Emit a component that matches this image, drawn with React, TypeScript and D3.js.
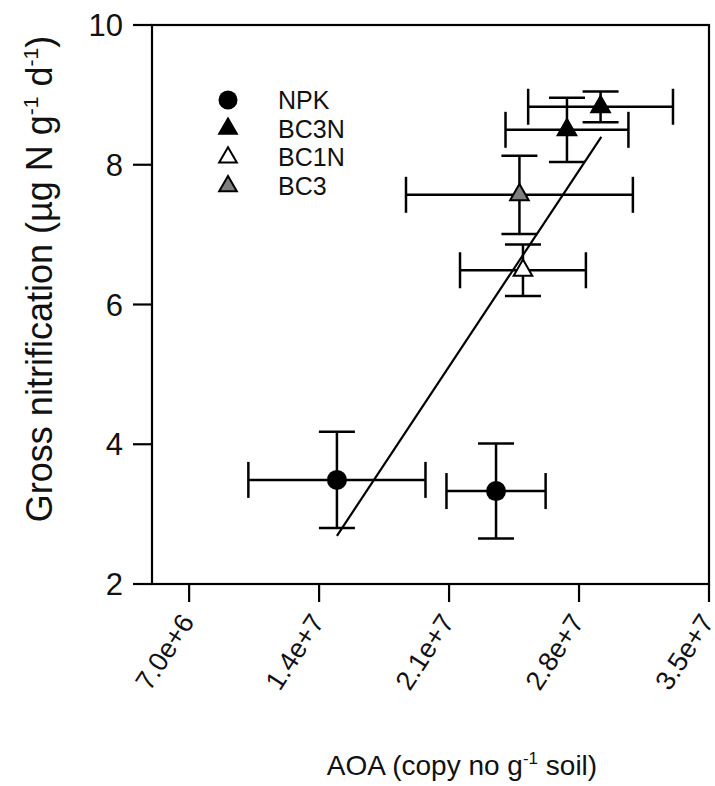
import React from 'react';
import * as d3 from 'd3';

const groups = ['NPK', 'NPK', 'BC3N', 'BC3N', 'BC1N', 'BC3'];
const aoa = [14.96e6, 23.53e6, 29.16e6, 27.35e6, 24.98e6, 24.79e6];
const aoaErr = [4.77e6, 2.67e6, 3.9e6, 3.31e6, 3.39e6, 6.11e6];
const nitr = [3.49, 3.33, 8.83, 8.5, 6.49, 7.57];
const nitrErr = [0.69, 0.68, 0.22, 0.46, 0.37, 0.56];
const xTicks = [7e6, 1.4e7, 2.1e7, 2.8e7, 3.5e7];
const xTickLabels = ['7.0e+6', '1.4e+7', '2.1e+7', '2.8e+7', '3.5e+7'];
const yTicks = [2, 4, 6, 8, 10];
const fitX = [14.96e6, 29.2e6];
const fitY = [2.69, 8.4];
const legendLabels = ['NPK', 'BC3N', 'BC1N', 'BC3'];

const W = 715;
const H = 786;
const L = 152, R = 709, T = 25, B = 584;
const FONT = 'Arial, "Liberation Sans", sans-serif';

const styleOf: Record<string, { shape: string; fill: string }> = {
  NPK: { shape: 'circle', fill: '#000' },
  BC3N: { shape: 'triangle', fill: '#000' },
  BC1N: { shape: 'triangle', fill: '#fff' },
  BC3: { shape: 'triangle', fill: '#7f7f7f' },
};

function Marker({ g, x, y, scale = 1 }: { g: string; x: number; y: number; scale?: number }) {
  const st = styleOf[g];
  if (st.shape === 'circle') {
    return <circle cx={x} cy={y} r={10 * scale} fill={st.fill} />;
  }
  const path = d3.symbol().type(d3.symbolTriangle).size(150 * scale * scale)()!;
  return (
    <path
      d={path}
      transform={`translate(${x},${y})`}
      fill={st.fill}
      stroke="#000"
      strokeWidth={2}
      strokeLinejoin="miter"
    />
  );
}

export default function App() {
  const x = d3.scaleLinear().domain([5e6, 3.5e7]).range([L, R]);
  const y = d3.scaleLinear().domain([2, 10]).range([B, T]);
  const cap = 18;
  const sw = 2.5;

  return (
    <svg
      width={W}
      height={H}
      style={{ position: 'absolute', left: 0, top: 0, background: '#fff' }}
      fontFamily={FONT}
    >
      <rect x={0} y={0} width={W} height={H} fill="#fff" />
      {/* frame */}
      <rect x={L} y={T} width={R - L} height={B - T} fill="none" stroke="#000" strokeWidth={2.2} />
      {/* y ticks */}
      {yTicks.map((t) => (
        <g key={'y' + t}>
          <line x1={L - 19} x2={L} y1={y(t)} y2={y(t)} stroke="#000" strokeWidth={2.2} />
          <text x={L - 29} y={y(t)} dy="0.36em" textAnchor="end" fontSize={31} fill="#111">
            {t}
          </text>
        </g>
      ))}
      {/* x ticks */}
      {xTicks.map((t, i) => (
        <g key={'x' + t}>
          <line x1={x(t)} x2={x(t)} y1={B} y2={B + 18} stroke="#000" strokeWidth={2.2} />
          <text
            transform={`translate(${x(t) + 6},${B + 38}) rotate(-57)`}
            textAnchor="end"
            fontSize={27}
            fill="#111"
          >
            {xTickLabels[i]}
          </text>
        </g>
      ))}
      {/* error bars */}
      {aoa.map((v, i) => {
        const cx = x(v);
        const cy = y(nitr[i]);
        const x0 = x(v - aoaErr[i]);
        const x1 = x(v + aoaErr[i]);
        const y0 = y(nitr[i] - nitrErr[i]);
        const y1 = y(nitr[i] + nitrErr[i]);
        return (
          <g key={'e' + i} stroke="#000" strokeWidth={sw}>
            <line x1={x0} x2={x1} y1={cy} y2={cy} />
            <line x1={x0} x2={x0} y1={cy - cap} y2={cy + cap} />
            <line x1={x1} x2={x1} y1={cy - cap} y2={cy + cap} />
            <line x1={cx} x2={cx} y1={y0} y2={y1} />
            <line x1={cx - cap} x2={cx + cap} y1={y0} y2={y0} />
            <line x1={cx - cap} x2={cx + cap} y1={y1} y2={y1} />
          </g>
        );
      })}
      {/* markers */}
      {aoa.map((v, i) => (
        <Marker key={'m' + i} g={groups[i]} x={x(v)} y={y(nitr[i])} />
      ))}
      {/* regression line */}
      <line
        x1={x(fitX[0])}
        y1={y(fitY[0])}
        x2={x(fitX[1])}
        y2={y(fitY[1])}
        stroke="#000"
        strokeWidth={2.2}
      />
      {/* legend */}
      {legendLabels.map((g, i) => (
        <g key={'l' + g}>
          <Marker g={g} x={228} y={100 + i * 28.7} scale={0.95} />
          <text x={278} y={100 + i * 28.7} dy="0.36em" fontSize={25} fill="#111">
            {g}
          </text>
        </g>
      ))}
      {/* x title */}
      <text x={462} y={775} textAnchor="middle" fontSize={28} fill="#111">
        AOA (copy no g
        <tspan dy={-11} fontSize={17}>-1</tspan>
        <tspan dy={11}> soil)</tspan>
      </text>
      {/* y title */}
      <text
        transform={`translate(52,${279}) rotate(-90)`}
        textAnchor="middle"
        fontSize={36}
        fill="#111"
      >
        Gross nitrification (µg N g
        <tspan dy={-14} fontSize={21}>-1</tspan>
        <tspan dy={14}> d</tspan>
        <tspan dy={-14} fontSize={21}>-1</tspan>
        <tspan dy={14}>)</tspan>
      </text>
    </svg>
  );
}
